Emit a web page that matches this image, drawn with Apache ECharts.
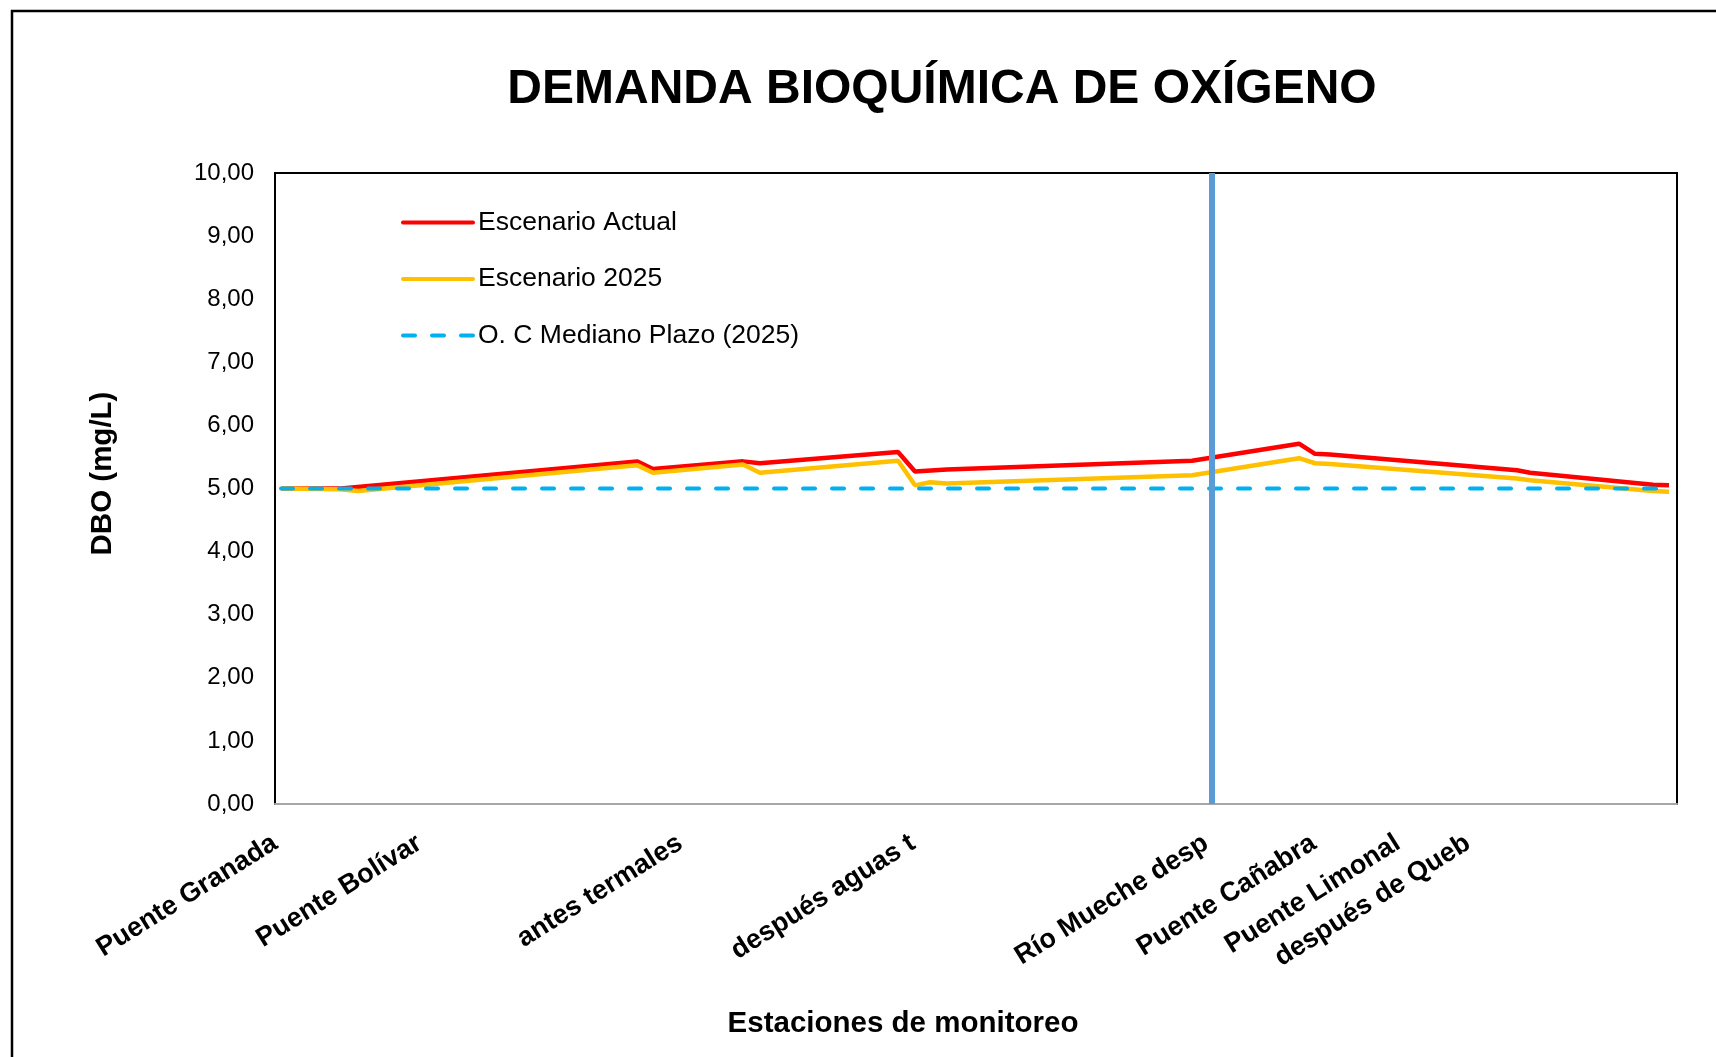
<!DOCTYPE html>
<html>
<head>
<meta charset="utf-8">
<script src="https://cdn.jsdelivr.net/npm/echarts@6/dist/echarts.min.js"></script>
<style>
  html, body { margin: 0; padding: 0; background: #fff; }
  #chart { width: 1716px; height: 1057px; }
</style>
</head>
<body>
<div id="chart"></div>
<script>
const FONT = "'Liberation Sans', Arial, sans-serif";

// estaciones (abscisa relativa a lo largo del río)
const stations = ["Puente Granada", "Puente Bolívar", "antes termales", "después aguas t",
  "Río Mueche desp", "Puente Cañabra", "Puente Limonal", "después de Queb"];
const stationPos = [0.0, 10.3, 28.9, 45.5, 66.4, 74.1, 80.1, 85.1];

// Escenario Actual
const xActual = [0.43, 4.71, 25.82, 26.96, 33.38, 34.59, 44.44, 45.65, 47.93, 65.41, 73.04, 74.18, 75.25, 88.59, 89.52, 98.29, 99.43];
const yActual = [5.00, 5.00, 5.43, 5.31, 5.43, 5.40, 5.58, 5.27, 5.30, 5.44, 5.71, 5.55, 5.54, 5.29, 5.25, 5.06, 5.05];

// Escenario 2025
const x2025 = [0.43, 4.42, 5.92, 25.82, 26.96, 33.38, 34.59, 44.44, 45.65, 46.72, 47.93, 65.41, 73.04, 74.18, 75.25, 88.59, 89.52, 98.29, 99.43];
const y2025 = [5.00, 4.99, 4.96, 5.37, 5.25, 5.38, 5.25, 5.44, 5.05, 5.10, 5.08, 5.21, 5.48, 5.40, 5.39, 5.16, 5.13, 4.96, 4.95];

// objetivo de calidad mediano plazo
const xObjetivo = [0.43, 99.43];
const yObjetivo = [5.00, 5.00];

// línea vertical (Río Mueche)
const markerPos = 66.81;

const pairs = (xs, ys) => xs.map((x, i) => [x, ys[i]]);

const chart = echarts.init(document.getElementById("chart"));

const option = {
  animation: false,
  backgroundColor: "#fff",
  textStyle: { fontFamily: FONT, color: "#000" },
  title: {
    text: "DEMANDA BIOQUÍMICA DE OXÍGENO",
    left: 937,
    textAlign: "center",
    top: 61,
    textStyle: { fontFamily: FONT, fontSize: 48, fontWeight: "bold", color: "#000" }
  },
  graphic: [
    {
      type: "rect",
      shape: { x: 12, y: 11, width: 1760, height: 1100 },
      style: { fill: "none", stroke: "#000", lineWidth: 2.5 },
      silent: true
    }
  ],
  legend: {
    orient: "vertical",
    left: 396,
    top: 204,
    itemWidth: 70,
    itemHeight: 26,
    itemGap: 29.5,
    itemStyle: { opacity: 0 },
    lineStyle: { width: 4, cap: "round" },
    textStyle: { fontFamily: FONT, fontSize: 26.5, color: "#000" },
    data: ["Escenario Actual", "Escenario 2025", "O. C Mediano Plazo (2025)"]
  },
  grid: {
    left: 275,
    right: 39,
    top: 173,
    bottom: 253,
    show: true,
    borderColor: "#000",
    borderWidth: 2,
    backgroundColor: "transparent"
  },
  xAxis: {
    type: "value",
    min: 0,
    max: 100,
    name: "Estaciones de monitoreo",
    nameLocation: "middle",
    nameGap: 205,
    nameTextStyle: { fontFamily: FONT, fontSize: 29.5, fontWeight: "bold", color: "#000", padding: [0, 146, 0, 0] },
    axisLine: { show: true, lineStyle: { color: "#a6a6a6", width: 2 } },
    axisTick: { show: false },
    splitLine: { show: false },
    axisLabel: {
      customValues: stationPos,
      rotate: 32,
      margin: 37,
      fontFamily: FONT,
      fontSize: 27,
      fontWeight: "bold",
      color: "#000",
      formatter: (v) => {
        const i = stationPos.indexOf(v);
        return i >= 0 ? stations[i] : "";
      }
    }
  },
  yAxis: {
    type: "value",
    min: 0,
    max: 10,
    interval: 1,
    name: "DBO (mg/L)",
    nameLocation: "middle",
    nameGap: 157,
    nameTextStyle: { fontFamily: FONT, fontSize: 29.5, fontWeight: "bold", color: "#000", padding: [0, 0, 0, 30] },
    axisLine: { show: true, lineStyle: { color: "#000", width: 2 } },
    axisTick: { show: false },
    splitLine: { show: false },
    axisLabel: {
      margin: 21,
      fontFamily: FONT,
      fontSize: 24,
      color: "#000",
      formatter: (v) => v.toFixed(2).replace(".", ",")
    }
  },
  series: [
    {
      name: "Escenario Actual",
      type: "line",
      data: pairs(xActual, yActual),
      symbol: "none",
      lineStyle: { color: "#ff0000", width: 4.5 },
      itemStyle: { color: "#ff0000" }
    },
    {
      name: "Escenario 2025",
      type: "line",
      data: pairs(x2025, y2025),
      symbol: "none",
      lineStyle: { color: "#ffc000", width: 4.5 },
      itemStyle: { color: "#ffc000" }
    },
    {
      name: "O. C Mediano Plazo (2025)",
      type: "line",
      data: pairs(xObjetivo, yObjetivo),
      symbol: "none",
      lineStyle: { color: "#00b0f0", width: 4, type: [12, 17], cap: "round" },
      itemStyle: { color: "#00b0f0" },
      markLine: {
        silent: true,
        symbol: ["none", "none"],
        label: { show: false },
        lineStyle: { color: "#5b9bd5", width: 6, type: "solid" },
        data: [{ xAxis: markerPos }]
      }
    }
  ]
};

chart.setOption(option);
window.addEventListener("resize", () => chart.resize());
</script>
</body>
</html>
